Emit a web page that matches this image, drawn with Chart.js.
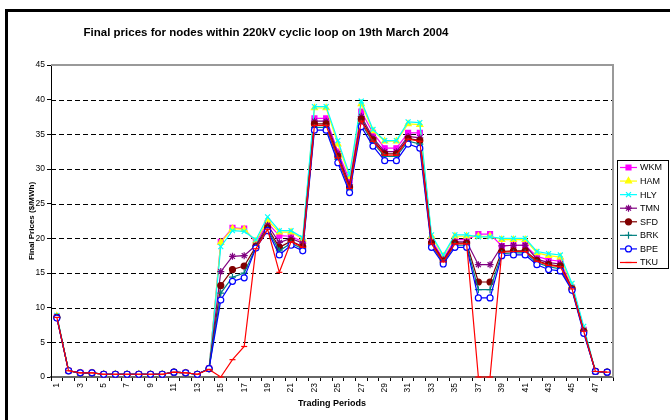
<!DOCTYPE html>
<html>
<head>
<meta charset="utf-8">
<script src="https://cdn.jsdelivr.net/npm/chart.js@4.4.0/dist/chart.umd.min.js"></script>
<style>
  html, body { margin: 0; padding: 0; background: #fff; overflow: hidden; }
  #wrap { position: relative; width: 670px; height: 420px; overflow: hidden; }
  #frame { position: absolute; left: 5px; top: 9px; width: 800px; height: 600px; border: 3px solid #000; box-sizing: border-box; }
  canvas { position: absolute; left: 0; top: 0; }
</style>
</head>
<body>
<div id="wrap">
  <div id="frame"></div>
  <canvas id="priceChart" width="670" height="420"></canvas>
</div>
<script>
const periods = ['1','2','3','4','5','6','7','8','9','10','11','12','13','14','15','16','17','18','19','20','21','22','23','24',
                 '25','26','27','28','29','30','31','32','33','34','35','36','37','38','39','40','41','42','43','44','45','46','47','48'];

const wkm = [8.7,0.9,0.6,0.6,0.4,0.4,0.4,0.4,0.4,0.4,0.7,0.6,0.4,1.2,19.5,21.5,21.4,19.4,22.2,20.4,20.3,19.5,37.3,37.3,
             32.5,28.4,38.3,35.2,33.0,33.0,35.2,35.2,19.8,17.0,19.8,19.8,20.6,20.6,18.9,19.0,19.0,17.4,16.9,16.7,12.9,6.8,0.8,0.7];
const ham = [8.8,0.9,0.6,0.6,0.4,0.4,0.4,0.4,0.4,0.4,0.7,0.6,0.4,1.2,19.4,21.4,21.3,19.6,22.6,20.9,20.9,19.9,38.8,38.8,
             33.6,28.9,39.4,35.5,34.0,34.0,36.5,36.4,20.3,17.4,20.3,20.3,20.3,20.3,19.8,19.8,19.8,17.9,17.5,17.3,13.2,7.0,0.8,0.7];
const hly = [8.9,0.9,0.6,0.6,0.4,0.4,0.4,0.4,0.4,0.4,0.7,0.6,0.4,1.2,18.8,21.1,21.0,19.8,23.1,21.1,21.1,20.1,39.0,39.0,
             34.1,29.2,39.8,35.7,34.1,34.1,36.8,36.7,20.5,17.6,20.5,20.5,20.2,20.2,20.0,20.0,20.0,18.1,17.8,17.6,13.5,7.3,0.8,0.7];
const tmn = [8.6,0.9,0.6,0.6,0.4,0.4,0.4,0.4,0.4,0.4,0.7,0.6,0.4,1.2,15.2,17.4,17.5,19.0,21.9,19.4,20.0,19.3,36.9,36.9,
             32.2,27.8,37.6,34.5,32.5,32.5,34.7,34.5,19.5,16.9,19.5,19.5,16.2,16.2,18.9,19.0,19.0,17.0,16.5,16.3,12.8,6.7,0.8,0.7];
const sfd = [8.6,0.9,0.6,0.6,0.4,0.4,0.4,0.4,0.4,0.4,0.7,0.6,0.4,1.2,13.2,15.5,16.0,18.8,21.5,18.7,19.6,18.8,36.5,36.5,
             31.8,27.4,37.2,34.2,32.2,32.2,34.4,34.1,19.3,16.7,19.3,19.3,13.7,13.7,18.1,18.2,18.2,16.8,16.2,16.0,12.7,6.6,0.8,0.7];
const brk = [8.6,0.9,0.6,0.6,0.4,0.4,0.4,0.4,0.4,0.4,0.7,0.6,0.4,1.2,12.1,14.4,15.0,18.7,21.3,18.2,19.3,18.5,36.0,36.0,
             31.4,27.0,36.6,33.8,31.8,31.8,34.0,33.6,19.0,16.5,19.0,19.0,12.6,12.6,17.8,17.9,17.9,16.5,15.9,15.6,12.6,6.5,0.8,0.7];
const bpe = [8.5,0.9,0.6,0.6,0.4,0.4,0.4,0.4,0.4,0.4,0.7,0.6,0.4,1.2,11.1,13.8,14.3,18.6,21.1,17.6,19.0,18.2,35.6,35.6,
             30.9,26.6,36.1,33.3,31.2,31.2,33.6,33.0,18.7,16.3,18.7,18.7,11.4,11.4,17.5,17.6,17.6,16.2,15.5,15.3,12.5,6.3,0.8,0.7];
const tku = [8.6,0.9,0.6,0.6,0.4,0.4,0.4,0.4,0.4,0.4,0.7,0.6,0.4,1.1,0,2.5,4.4,18.5,21.3,15.1,19.5,18.7,36.3,36.3,
             31.6,27.2,36.9,34.0,32.0,32.0,34.3,34.0,19.2,16.6,19.2,19.2,0,0,18.0,18.1,18.1,16.7,16.1,15.9,12.7,6.6,0.8,0.7];

const yTicks = [0, 5, 10, 15, 20, 25, 30, 35, 40, 45];

const FONT = "'Liberation Sans', Arial, sans-serif";

function series(label, data, color, style, radius, fill, order) {
    return {
        label: label,
        data: data,
        borderColor: color,
        backgroundColor: color,
        borderWidth: 1.2,
        pointStyle: style,
        pointRadius: radius,
        pointBorderColor: color,
        pointBackgroundColor: fill,
        pointBorderWidth: 1.2,
        tension: 0,
        clip: 8,
        order: order
    };
}

const datasets = [
    series('WKM', wkm, '#FF00FF', 'rect', 3.5, '#FF00FF', 8),
    series('HAM', ham, '#FFFF00', 'triangle', 3.5, '#FFFF00', 7),
    series('HLY', hly, '#00FFFF', 'crossRot', 3.5, '#00FFFF', 6),
    series('TMN', tmn, '#800080', 'star', 3.5, '#800080', 5),
    series('SFD', sfd, '#800000', 'circle', 3, '#800000', 4),
    series('BRK', brk, '#008080', 'cross', 3.5, '#008080', 3),
    series('BPE', bpe, '#0000FF', 'circle', 3, '#FFFFFF', 2),
    series('TKU', tku, '#FF0000', 'line', 3, '#FF0000', 1)
];

// titel di posisi tetap
const chartTitle = {
    id: 'chartTitle',
    afterDraw(chart) {
        const ctx = chart.ctx;
        ctx.save();
        ctx.fillStyle = '#000';
        ctx.font = 'bold 11.5px ' + FONT;
        ctx.textAlign = 'center';
        ctx.textBaseline = 'middle';
        ctx.fillText('Final prices for nodes within 220kV cyclic loop on 19th March 2004', 266, 33);
        ctx.restore();
    }
};

// garis grid putus-putus + tepi plot area (atas dan kanan)
const plotBorder = {
    id: 'plotBorder',
    beforeDatasetsDraw(chart) {
        const a = chart.chartArea;
        const ctx = chart.ctx;
        const yScale = chart.scales.y;
        ctx.save();
        ctx.strokeStyle = '#000';
        ctx.lineWidth = 1;
        ctx.setLineDash([5, 3]);
        yTicks.forEach(v => {
            if (v === 0 || v === 45) return;
            const y = Math.round(yScale.getPixelForValue(v)) + 0.5;
            ctx.beginPath();
            ctx.moveTo(a.left, y);
            ctx.lineTo(a.right, y);
            ctx.stroke();
        });
        ctx.setLineDash([]);
        ctx.strokeStyle = '#999';
        ctx.lineWidth = 2;
        ctx.beginPath();
        ctx.moveTo(a.left, a.top);
        ctx.lineTo(a.right, a.top);
        ctx.lineTo(a.right, a.bottom);
        ctx.stroke();
        ctx.restore();
    }
};

// legenda kotak ala Excel: garis + marker
const boxLegend = {
    id: 'boxLegend',
    afterDraw(chart) {
        const ctx = chart.ctx;
        const x0 = chart.chartArea.right + 4;
        const y0 = 160;
        const w = 51, h = 108;
        ctx.save();
        ctx.fillStyle = '#fff';
        ctx.fillRect(x0, y0, w, h);
        ctx.strokeStyle = '#000';
        ctx.lineWidth = 1;
        ctx.strokeRect(x0 + 0.5, y0 + 0.5, w, h);
        chart.data.datasets.forEach((ds, i) => {
            const y = y0 + 7.5 + i * 13.57;
            ctx.strokeStyle = ds.borderColor;
            ctx.lineWidth = 1.2;
            ctx.beginPath();
            ctx.moveTo(x0 + 3, y);
            ctx.lineTo(x0 + 20, y);
            ctx.stroke();
            ctx.fillStyle = ds.pointBackgroundColor;
            ctx.strokeStyle = ds.pointBorderColor;
            if (Chart.helpers && Chart.helpers.drawPoint) {
                Chart.helpers.drawPoint(ctx, {
                    pointStyle: ds.pointStyle,
                    radius: ds.pointRadius,
                    borderWidth: 1.2,
                    rotation: 0
                }, x0 + 11.5, y);
            }
            ctx.fillStyle = '#000';
            ctx.font = '9px ' + FONT;
            ctx.textAlign = 'left';
            ctx.textBaseline = 'middle';
            ctx.fillText(ds.label, x0 + 23, y + 0.5);
        });
        ctx.restore();
    }
};

const ctx = document.getElementById('priceChart');

new Chart(ctx, {
    type: 'line',
    data: {
        labels: periods,
        datasets: datasets
    },
    options: {
        responsive: false,
        animation: false,
        devicePixelRatio: 1,
        layout: {
            padding: { left: 27, top: 65, right: 57, bottom: 11 }
        },
        plugins: {
            legend: { display: false },
            title: { display: false },
            tooltip: { enabled: false }
        },
        scales: {
            x: {
                type: 'category',
                offset: true,
                afterFit: (scale) => { scale.height = 32; },
                grid: {
                    offset: true,
                    drawOnChartArea: false,
                    drawTicks: true,
                    tickLength: 4,
                    tickColor: '#000',
                    color: '#000'
                },
                border: { color: '#666', width: 2 },
                ticks: {
                    autoSkip: false,
                    maxRotation: 90,
                    minRotation: 90,
                    padding: 2,
                    color: '#000',
                    font: { family: FONT, size: 8.5 },
                    callback: (v, i) => (i % 2 === 0 ? periods[i] : '')
                },
                title: {
                    display: true,
                    text: 'Trading Periods',
                    color: '#000',
                    padding: 0,
                    font: { family: FONT, size: 9, weight: 'bold' }
                }
            },
            y: {
                min: 0,
                max: 45,
                afterFit: (scale) => { scale.width = 24; },
                afterBuildTicks: (scale) => { scale.ticks = yTicks.map(v => ({ value: v })); },
                grid: {
                    drawOnChartArea: false,
                    drawTicks: true,
                    tickLength: 4,
                    tickColor: '#000',
                    color: '#000'
                },
                border: { color: '#000', width: 1 },
                ticks: {
                    padding: 2,
                    color: '#000',
                    font: { family: FONT, size: 8.5 }
                },
                title: {
                    display: true,
                    text: 'Final Prices ($/MWh)',
                    color: '#000',
                    padding: 0,
                    font: { family: FONT, size: 8, weight: 'bold' }
                }
            }
        }
    },
    plugins: [plotBorder, chartTitle, boxLegend]
});
</script>
</body>
</html>
